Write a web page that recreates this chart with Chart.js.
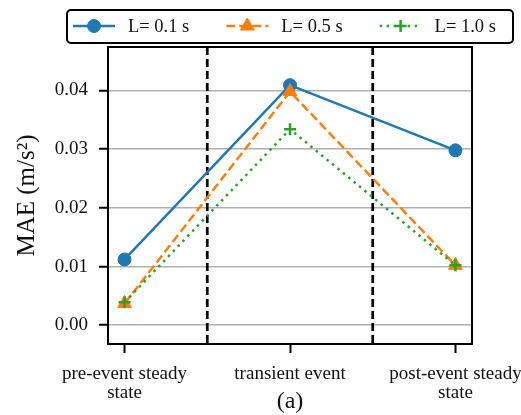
<!DOCTYPE html>
<html>
<head>
<meta charset="utf-8">
<script src="https://cdn.jsdelivr.net/npm/chart.js@4"></script>
<style>
  html, body { margin: 0; padding: 0; background: #fff; }
</style>
</head>
<body>
<canvas id="maeChart" width="521" height="415"></canvas>
<script>
// phases along the x axis (multi-line labels)
const phases = [['pre-event steady', 'state'], ['transient event'], ['post-event steady', 'state']];
const seriesLabels = ['L= 0.1 s', 'L= 0.5 s', 'L= 1.0 s'];
const maeL01 = [0.0112, 0.0409, 0.0298];
const maeL05 = [0.0037, 0.0398, 0.0102];
const maeL10 = [0.0039, 0.0334, 0.0102];
const yTicks = [0, 0.01, 0.02, 0.03, 0.04];
const phaseBounds = [0.5, 1.5];
const caption = '(a)';

Chart.defaults.font.family = "'Liberation Serif', 'DejaVu Serif', serif";
Chart.defaults.color = '#111';

function toPoints(values) {
    return values.map((v, i) => ({ x: i, y: v }));
}

// black dashed separators between the phases
const phaseLines = {
    id: 'phaseLines',
    beforeDatasetsDraw(chart) {
        const ctx = chart.ctx;
        const area = chart.chartArea;
        ctx.save();
        ctx.strokeStyle = '#000';
        ctx.lineWidth = 2.7;
        ctx.setLineDash([8, 4]);
        phaseBounds.forEach(b => {
            const px = chart.scales.x.getPixelForValue(b);
            ctx.beginPath();
            ctx.moveTo(px, area.top);
            ctx.lineTo(px, area.bottom);
            ctx.stroke();
        });
        ctx.restore();
    }
};

// box around the plot, legend frame and caption
const frameAndLegend = {
    id: 'frameAndLegend',
    afterDraw(chart) {
        const ctx = chart.ctx;
        const area = chart.chartArea;
        ctx.save();
        ctx.strokeStyle = '#000';
        ctx.lineWidth = 2;
        ctx.setLineDash([]);
        ctx.strokeRect(area.left, area.top, area.right - area.left, area.bottom - area.top);

        // legend
        ctx.beginPath();
        ctx.roundRect(67, 10, 446, 33, 4);
        ctx.stroke();
        ctx.font = "18.5px 'Liberation Serif'";
        ctx.textBaseline = 'middle';
        let x = 73;
        const y = 26;
        chart.data.datasets.forEach(ds => {
            ctx.strokeStyle = ds.borderColor;
            ctx.fillStyle = ds.backgroundColor;
            ctx.lineWidth = ds.borderWidth;
            ctx.setLineDash(ds.borderDash || []);
            ctx.beginPath();
            ctx.moveTo(x, y);
            ctx.lineTo(x + 42, y);
            ctx.stroke();
            ctx.setLineDash([]);
            ctx.lineWidth = ds.pointBorderWidth;
            Chart.helpers.drawPoint(ctx, {
                pointStyle: ds.pointStyle,
                radius: ds.pointRadius,
                borderWidth: ds.pointBorderWidth,
                rotation: 0
            }, x + 21, y);
            ctx.fillStyle = '#111';
            ctx.fillText(ds.label, x + 55, y + 1);
            x += 55 + ctx.measureText(ds.label).width + 37;
        });

        ctx.font = "24px 'Liberation Serif'";
        ctx.textAlign = 'center';
        ctx.fillText(caption, (area.left + area.right) / 2, 402);
        ctx.restore();
    }
};

const ctx = document.getElementById('maeChart').getContext('2d');
new Chart(ctx, {
    type: 'line',
    data: {
        datasets: [{
            label: seriesLabels[0],
            data: toPoints(maeL01),
            borderColor: '#1f77b4',
            backgroundColor: '#1f77b4',
            borderWidth: 2.5,
            pointStyle: 'circle',
            pointRadius: 6.5,
            pointBorderWidth: 1,
            order: 3
        }, {
            label: seriesLabels[1],
            data: toPoints(maeL05),
            borderColor: '#ff7f0e',
            backgroundColor: '#ff7f0e',
            borderWidth: 2.5,
            borderDash: [9, 4],
            pointStyle: 'triangle',
            pointRadius: 8,
            pointBorderWidth: 1,
            order: 2
        }, {
            label: seriesLabels[2],
            data: toPoints(maeL10),
            borderColor: '#2ca02c',
            backgroundColor: '#2ca02c',
            borderWidth: 2.5,
            borderDash: [2.5, 4.5],
            pointStyle: 'cross',
            pointRadius: 6,
            pointBorderWidth: 2.5,
            order: 1
        }]
    },
    options: {
        responsive: false,
        animation: false,
        layout: { padding: { top: 47, right: 49, bottom: 0, left: 0 } },
        plugins: {
            legend: { display: false },
            tooltip: { enabled: false }
        },
        scales: {
            x: {
                type: 'linear',
                min: -0.1,
                max: 2.1,
                afterBuildTicks: s => { s.ticks = phases.map((p, i) => ({ value: i })); },
                afterFit: s => { s.height = 71; s.paddingLeft = 0; s.paddingRight = 0; },
                border: { display: false },
                grid: {
                    drawOnChartArea: false,
                    drawTicks: true,
                    tickLength: 9,
                    tickWidth: 2,
                    tickColor: '#000'
                },
                ticks: {
                    font: { size: 19, lineHeight: 0.97 },
                    padding: 12,
                    maxRotation: 0,
                    callback: v => phases[v]
                }
            },
            y: {
                min: -0.0032,
                max: 0.0474,
                afterBuildTicks: s => { s.ticks = yTicks.map(v => ({ value: v })); },
                afterFit: s => { s.width = 108; },
                border: { display: false },
                grid: {
                    color: '#b0b0b0',
                    lineWidth: 1.5,
                    tickLength: 9,
                    tickWidth: 2,
                    tickColor: '#000'
                },
                ticks: {
                    font: { size: 19 },
                    padding: 11,
                    callback: v => v.toFixed(2)
                },
                title: {
                    display: true,
                    text: 'MAE (m/s²)',
                    font: { size: 25 },
                    padding: { top: 12, bottom: 0 }
                }
            }
        }
    },
    plugins: [phaseLines, frameAndLegend]
});
</script>
</body>
</html>
